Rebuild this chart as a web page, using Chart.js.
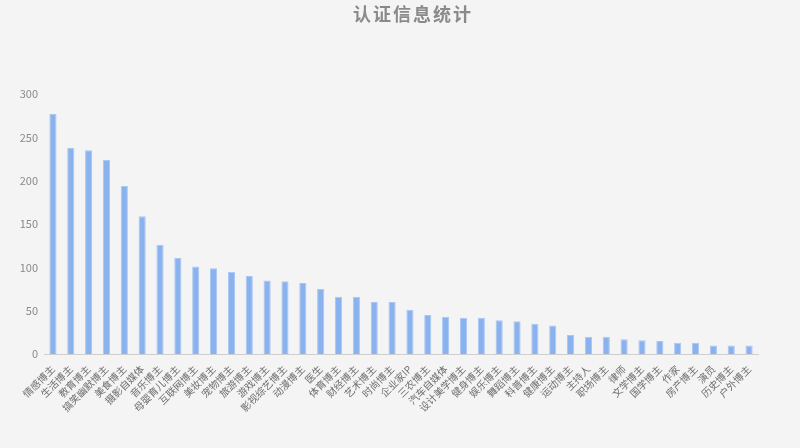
<!DOCTYPE html>
<html>
<head>
<meta charset="utf-8">
<script src="https://cdn.jsdelivr.net/npm/chart.js@4"></script>
<style>
  html, body { margin: 0; padding: 0; background: #f4f4f4; }
  #wrap { width: 800px; height: 448px; }
</style>
</head>
<body>
<div id="wrap"><canvas id="authChart"></canvas></div>
<script>
  // ======= 数据 =======
  const titleText = '认证信息统计';
  const categories = [
    '情感博主', '生活博主', '教育博主', '搞笑幽默博主', '美食博主', '摄影自媒体', '音乐博主', '母婴育儿博主',
    '互联网博主', '美妆博主', '宠物博主', '旅游博主', '游戏博主', '影视综艺博主', '动漫博主', '医生',
    '体育博主', '财经博主', '艺术博主', '时尚博主', '企业家IP', '三农博主', '汽车自媒体', '设计美学博主',
    '健身博主', '娱乐博主', '舞蹈博主', '科普博主', '健康博主', '运动博主', '主持人', '职场博主',
    '律师', '文学博主', '国学博主', '作家', '房产博主', '演员', '历史博主', '户外博主'
  ];
  const counts = [
    277, 238, 235, 224, 194, 159, 126, 111,
    101, 99, 95, 90, 85, 84, 82, 75,
    66, 66, 60, 60, 51, 45, 43, 42,
    42, 39, 38, 35, 33, 22, 20, 20,
    17, 16, 15, 13, 13, 10, 10, 10
  ];
  const yTicks = [0, 50, 100, 150, 200, 250, 300];

  const FONT = "'Noto Sans CJK SC', 'Noto Sans', sans-serif";

  // 背景 + 标题（带字间距）
  const bgPlugin = {
    id: 'bg',
    beforeDraw(chart) {
      const c = chart.ctx;
      c.save();
      c.fillStyle = '#f4f4f4';
      c.fillRect(0, 0, chart.width, chart.height);
      c.restore();
    },
    afterDraw(chart) {
      const c = chart.ctx;
      c.save();
      c.font = 'bold 18px ' + FONT;
      c.fillStyle = '#8a8a8a';
      c.textAlign = 'center';
      c.textBaseline = 'middle';
      if ('letterSpacing' in c) c.letterSpacing = '2px';
      c.fillText(titleText, 413, 14);
      c.restore();
    }
  };

  new Chart(document.getElementById('authChart'), {
    type: 'bar',
    data: {
      labels: categories,
      datasets: [{
        label: '认证数量',
        data: counts,
        backgroundColor: '#8ab2ee',
        borderColor: '#a9c7f3',
        borderWidth: { left: 1, right: 1, top: 1, bottom: 0 },
        categoryPercentage: 1.0,
        barPercentage: 0.4
      }]
    },
    options: {
      responsive: true,
      maintainAspectRatio: false,
      animation: false,
      layout: { padding: { top: 94, right: 42, bottom: 33, left: 0 } },
      plugins: {
        legend: { display: false },
        tooltip: { enabled: false },
        title: { display: false }
      },
      scales: {
        x: {
          grid: { display: false },
          border: { display: true, color: '#cfcfcf', width: 1 },
          ticks: {
            color: '#6e6e6e',
            font: { family: FONT, size: 10 },
            minRotation: 45,
            maxRotation: 45,
            autoSkip: false,
            padding: 1
          }
        },
        y: {
          min: 0,
          max: 300,
          afterBuildTicks(axis) { axis.ticks = yTicks.map(v => ({ value: v })); },
          afterFit(axis) { axis.width = 44; },
          grid: { display: false, drawTicks: false },
          border: { display: false },
          ticks: {
            color: '#8a8a8a',
            font: { family: FONT, size: 11 },
            padding: 6
          }
        }
      }
    },
    plugins: [bgPlugin]
  });
</script>
</body>
</html>
